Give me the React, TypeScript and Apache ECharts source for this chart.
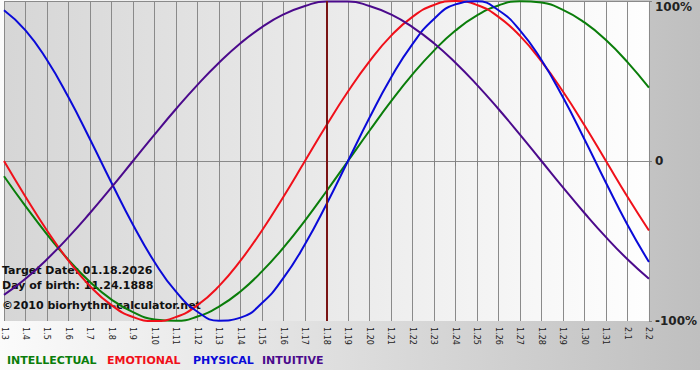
import React, { useEffect, useRef } from "react";
import * as echarts from "echarts";

const categories = [
  "1.3", "1.4", "1.5", "1.6", "1.7", "1.8", "1.9", "1.10", "1.11", "1.12",
  "1.13", "1.14", "1.15", "1.16", "1.17", "1.18", "1.19", "1.20", "1.21", "1.22",
  "1.23", "1.24", "1.25", "1.26", "1.27", "1.28", "1.29", "1.30", "1.31", "2.1", "2.2",
];

const intellectual = [
  -9.5, -28.2, -45.8, -61.8, -75.6, -86.6, -94.5, -99.0, -99.9, -97.2, -91.0,
  -81.5, -69.0, -54.1, -37.2, -18.9, 0, 18.9, 37.2, 54.1, 69.0, 81.5, 91.0,
  97.2, 99.9, 99.0, 94.5, 86.6, 75.6, 61.8, 45.8,
];
const emotional = [
  0, -22.3, -43.4, -62.3, -78.2, -90.1, -97.5, -100, -97.5, -90.1, -78.2,
  -62.3, -43.4, -22.3, 0, 22.3, 43.4, 62.3, 78.2, 90.1, 97.5, 100, 97.5, 90.1,
  78.2, 62.3, 43.4, 22.3, 0, -22.3, -43.4,
];
const physical = [
  94.2, 81.7, 63.1, 39.8, 13.6, -13.6, -39.8, -63.1, -81.7, -94.2, -99.8,
  -97.9, -88.8, -73.1, -52.0, -27.0, 0, 27.0, 52.0, 73.1, 88.8, 97.9, 99.8,
  94.2, 81.7, 63.1, 39.8, 13.6, -13.6, -39.8, -63.1,
];
const intuitive = [
  -83.7, -73.6, -61.4, -47.6, -32.5, -16.5, 0, 16.5, 32.5, 47.6, 61.4, 73.6,
  83.7, 91.6, 96.9, 99.7, 99.7, 96.9, 91.6, 83.7, 73.6, 61.4, 47.6, 32.5, 16.5,
  0, -16.5, -32.5, -47.6, -61.4, -73.6,
];

const targetDay = "1.18";
const seriesNames = ["INTELLECTUAL", "EMOTIONAL", "PHYSICAL", "INTUITIVE"];
const seriesColors = ["#0a7d0a", "#f0101a", "#0a0ad8", "#4b0a8c"];
const infoLines = [
  "Target Date: 01.18.2026",
  "Day of birth: 11.24.1888",
  "\u00a92010 biorhythm-calculator.net",
];

export default function App() {
  const ref = useRef<HTMLDivElement>(null);

  useEffect(() => {
    document.body.style.margin = "0";
    const chart = echarts.init(ref.current!, null, { renderer: "svg" });
    const dataSets = [intellectual, emotional, physical, intuitive];
    const legendX = [7, 107, 193, 262];
    const infoY = [272, 287, 307];

    chart.setOption({
      animation: false,
      backgroundColor: "transparent",
      grid: {
        left: 1,
        right: 49,
        top: 1,
        bottom: 49,
        show: true,
        borderWidth: 0,
        backgroundColor: {
          type: "linear",
          x: 0, y: 0, x2: 1, y2: 0,
          colorStops: [
            { offset: 0, color: "#d6d6d6" },
            { offset: 1, color: "#fefefe" },
          ],
        },
      },
      xAxis: {
        type: "category",
        data: categories,
        boundaryGap: false,
        axisLine: { show: false },
        axisTick: { show: true, length: 5, interval: 0, lineStyle: { color: "#808080" } },
        splitLine: { show: true, interval: 0, lineStyle: { color: "#8a8a8a", width: 1 } },
        axisLabel: {
          interval: 0,
          rotate: -90,
          margin: 6,
          color: "#222",
          fontFamily: "DejaVu Sans",
          fontSize: 8,
        },
      },
      yAxis: {
        type: "value",
        position: "right",
        min: -100,
        max: 100,
        interval: 100,
        axisLine: { show: false },
        axisTick: { show: true, length: 3, lineStyle: { color: "#808080" } },
        splitLine: {
          show: true,
          lineStyle: { color: ["transparent", "#8a8a8a", "#8a8a8a"], width: 1 },
        },
        axisLabel: {
          margin: 6,
          color: "#222",
          fontFamily: "DejaVu Sans",
          fontWeight: "bold",
          fontSize: 12,
          verticalAlignMaxLabel: "top",
          formatter: (v: number) => (v === 0 ? "0" : v + "%"),
        },
      },
      graphic: [
        ...infoLines.map((t, i) => ({
          type: "text",
          left: 2,
          top: infoY[i] - 7,
          z: 1,
          style: {
            text: t,
            fill: "#111",
            font: "bold 11px 'DejaVu Sans'",
          },
        })),
        ...seriesNames.map((n, i) => ({
          type: "text",
          left: legendX[i],
          top: 355,
          z: 1,
          style: {
            text: n,
            fill: seriesColors[i],
            font: "bold 11px 'DejaVu Sans'",
          },
        })),
      ],
      series: dataSets.map((d, i) => ({
        name: seriesNames[i],
        type: "line",
        data: d,
        smooth: true,
        showSymbol: false,
        z: 3,
        lineStyle: { color: seriesColors[i], width: 2 },
        itemStyle: { color: seriesColors[i] },
        ...(i === 0
          ? {
              markLine: {
                silent: true,
                symbol: ["none", "none"],
                label: { show: false },
                lineStyle: { color: "#7a1414", width: 2, type: "solid" },
                data: [{ xAxis: targetDay }],
              },
            }
          : {}),
      })),
    });

    return () => chart.dispose();
  }, []);

  return (
    <div
      ref={ref}
      style={{
        width: 700,
        height: 370,
        background: "linear-gradient(to right, #fbfbfb 0%, #bfbfbf 100%)",
      }}
    />
  );
}
